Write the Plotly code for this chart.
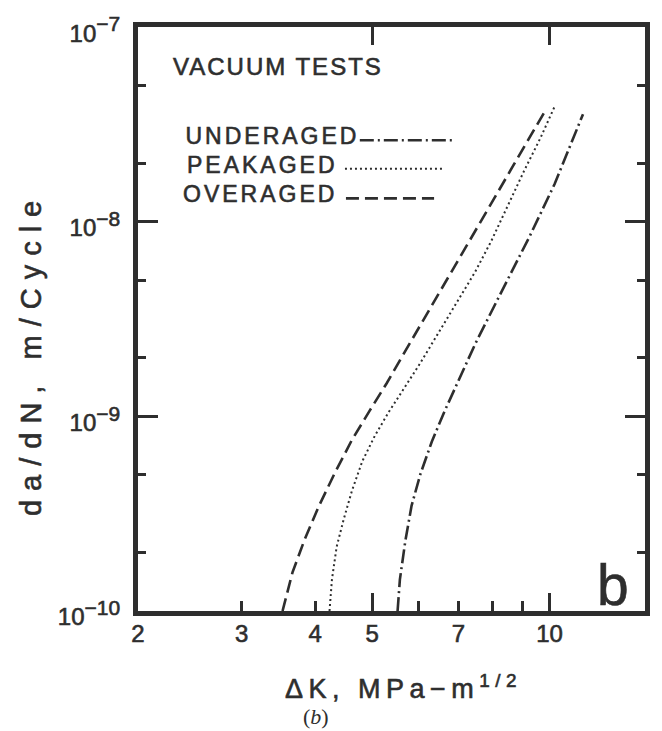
import json
import math
import plotly.graph_objects as go

# ---------------- data ----------------
series_names = ["UNDERAGED", "PEAKAGED", "OVERAGED"]

under_K = [5.52, 5.57, 5.69, 5.83, 6.03, 6.31, 6.64, 6.95, 7.49, 8.25, 9.27, 10.21, 11.40]
under_da = [1.0e-10, 1.45e-10, 2.29e-10, 3.47e-10, 5.01e-10, 7.41e-10, 1.07e-9, 1.45e-9,
            2.38e-9, 4.25e-9, 8.51e-9, 1.57e-8, 3.57e-8]

peak_K = [4.23, 4.27, 4.35, 4.47, 4.62, 4.81, 5.05, 5.33, 5.65, 6.02, 6.45, 6.95, 7.47, 7.96,
          8.49, 9.05, 9.65, 10.23]
peak_da = [1.0e-10, 1.45e-10, 2.14e-10, 2.95e-10, 4.17e-10, 5.89e-10, 7.94e-10, 1.05e-9,
           1.38e-9, 1.86e-9, 2.63e-9, 3.80e-9, 5.50e-9, 7.94e-9, 1.20e-8, 1.82e-8, 2.69e-8, 3.98e-8]

over_K = [3.52, 3.66, 3.84, 4.06, 4.32, 4.62, 4.95, 5.29, 5.64, 5.93, 6.25, 6.57, 6.92, 7.28,
          7.71, 8.16, 8.70, 9.27, 9.89]
over_da = [1.0e-10, 1.58e-10, 2.34e-10, 3.47e-10, 5.13e-10, 7.59e-10, 1.07e-9, 1.48e-9,
           2.07e-9, 2.68e-9, 3.52e-9, 4.57e-9, 5.98e-9, 7.80e-9, 1.05e-8, 1.41e-8, 1.97e-8,
           2.74e-8, 3.83e-8]

x_tick_vals = [2, 3, 4, 5, 7, 10]
x_tick_text = ["2", "3", "4", "5", "7", "10"]
x_minor_vals = [6, 8, 9]
x_long_vals = [5, 10]

y_tick_vals = [1e-10, 1e-9, 1e-8, 1e-7]
y_exponents = ["\u221210", "\u22129", "\u22128", "\u22127"]
y_minor_vals = [2e-10, 5e-10, 2e-9, 5e-9, 2e-8, 5e-8]

x_title = "\u0394K, MPa\u2212m<sup>1/2</sup>"
y_title = "da/dN, m/Cycle"
box_title = "VACUUM TESTS"
panel_letter = "b"
caption = "(<i>b</i>)"

# ---------------- styling ----------------
INK = "#2e2e2e"
FONT = "Liberation Sans, Arial, Helvetica, sans-serif"
dash_styles = ["14px,4px,2px,4px", "2px,3px", "13px,6px"]
line_widths = [2.6, 2.0, 2.6]

W, H = 662, 731
ML, MR, MT, MB = 138, 12, 18, 120
PW, PH = W - ML - MR, H - MT - MB


def px_x(px):
    return (px - ML) / PW


def px_y(py):
    return (H - MB - py) / PH


y_tick_text = ['10<sup><span style="font-size:21px">%s</span></sup>' % e for e in y_exponents]

fig = go.Figure()
for name, K, da, dash, lw in zip(series_names, [under_K, peak_K, over_K],
                                 [under_da, peak_da, over_da], dash_styles, line_widths):
    fig.add_trace(go.Scatter(x=K, y=da, mode="lines", name=name, showlegend=False,
                             line=dict(color=INK, width=lw, dash=dash)))

x_range = [math.log10(2), 1.1622]

fig.update_layout(
    width=W, height=H,
    margin=dict(l=ML, r=MR, t=MT, b=MB, pad=0),
    paper_bgcolor="white", plot_bgcolor="white",
    font=dict(family=FONT, color=INK, size=24),
    xaxis=dict(type="log", range=x_range, showgrid=False, zeroline=False,
               showline=True, linewidth=5, linecolor=INK, mirror="ticks",
               ticks="inside", tickmode="array", tickvals=x_long_vals, ticklen=18,
               tickwidth=2.5, tickcolor=INK, showticklabels=False),
    xaxis2=dict(type="log", range=x_range, overlaying="x", anchor="y", side="bottom",
                showgrid=False, zeroline=False, showline=False,
                ticks="inside", tickmode="array", tickvals=x_tick_vals, ticktext=x_tick_text,
                ticklen=10, tickwidth=2.5, tickcolor=INK,
                tickfont=dict(family=FONT, size=24, color=INK), ticklabelstandoff=6,
                ticklabeloverflow="allow",
                minor=dict(tickmode="array", tickvals=x_minor_vals, ticks="inside",
                           ticklen=10, tickwidth=2.5, tickcolor=INK, showgrid=False)),
    yaxis=dict(type="log", range=[-10, -6.9995], showgrid=False, zeroline=False,
               showline=True, linewidth=5, linecolor=INK, mirror="ticks",
               ticks="inside", tickmode="array", tickvals=y_tick_vals, ticktext=y_tick_text,
               ticklen=20, tickwidth=2.5, tickcolor=INK,
               tickfont=dict(family=FONT, size=24, color=INK),
               ticklabelstandoff=8, ticklabelshift=6, ticklabeloverflow="allow",
               minor=dict(tickmode="array", tickvals=y_minor_vals, ticks="inside",
                          ticklen=8, tickwidth=2.5, tickcolor=INK, showgrid=False)),
)

# an empty trace so that the overlaying label axis is drawn
fig.add_trace(go.Scatter(x=[None], y=[None], xaxis="x2", yaxis="y", showlegend=False,
                         hoverinfo="skip"))

annotations = [
    dict(text=box_title, x=px_x(279.5), y=px_y(58), size=24),
    dict(text=series_names[0], x=px_x(273.5), y=px_y(129), size=23),
    dict(text=series_names[1], x=px_x(264), y=px_y(158), size=23),
    dict(text=series_names[2], x=px_x(261), y=px_y(188), size=23),
    dict(text=panel_letter, x=px_x(618), y=px_y(585), size=57),
    dict(text=y_title, x=px_x(30), y=px_y(350), size=29, angle=-90),
    dict(text=x_title, x=px_x(406), y=px_y(688), size=27),
    dict(text=caption, x=px_x(318), y=px_y(718), size=22,
         family="Liberation Serif, Times New Roman, serif"),
]
letter_spacing = [2, 3, 3, 3, 0, 9, 5.5, 0]
embolden = [1, 1, 1, 1, 1, 1, 1, 0]

for a in annotations:
    fig.add_annotation(text=a["text"], xref="paper", yref="paper", x=a["x"], y=a["y"],
                       xanchor="center", yanchor="middle", showarrow=False,
                       textangle=a.get("angle", 0),
                       font=dict(family=a.get("family", FONT), size=a["size"], color=INK))

# legend line samples drawn after the labels
sample_spans = [(362, 455, 133), (347, 447, 162), (348, 437, 192)]
for (x0, x1, yy), dash, lw in zip(sample_spans, dash_styles, line_widths):
    fig.add_shape(type="line", xref="paper", yref="paper", x0=px_x(x0), x1=px_x(x1),
                  y0=px_y(yy), y1=px_y(yy), line=dict(color=INK, width=lw, dash=dash))

post = (
    "var gd=document.getElementById('{plot_id}');"
    "var ls=" + json.dumps(letter_spacing) + ";var eb=" + json.dumps(embolden) + ";"
    "gd.querySelectorAll('g.xtick text, g.x2tick text, g.ytick text').forEach(function(t){"
    "t.style.stroke='" + INK + "';t.style.strokeWidth='0.6px';});"
    "gd.querySelectorAll('g.annotation').forEach(function(g){"
    "var i=+g.getAttribute('data-index');var t=g.querySelector('text.annotation-text');"
    "if(!t){return;}"
    "if(ls[i]){t.style.letterSpacing=ls[i]+'px';}"
    "if(eb[i]){t.style.stroke='" + INK + "';t.style.strokeWidth='0.6px';}});"
)

fig.write_html("out.html", post_script=post)
